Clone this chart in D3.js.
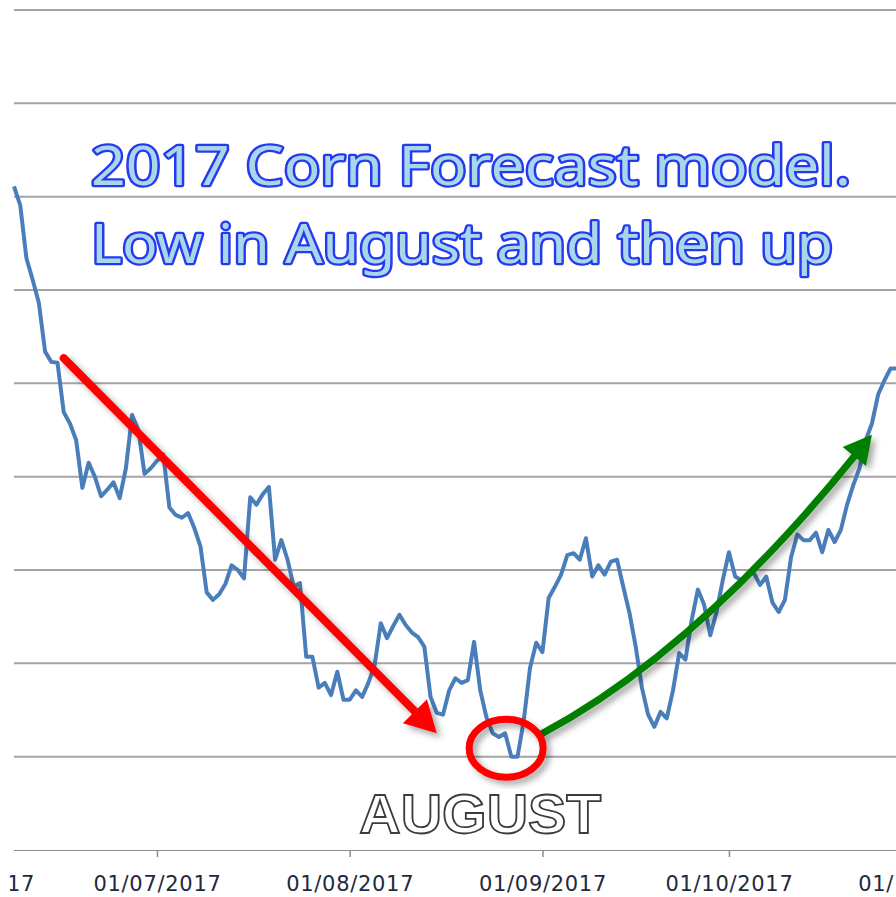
<!DOCTYPE html>
<html>
<head>
<meta charset="utf-8">
<script src="https://cdn.jsdelivr.net/npm/d3@7"></script>
<style>
  html, body { margin: 0; padding: 0; background: #fff; }
  svg { display: block; overflow: hidden; }
</style>
</head>
<body>
<div id="chart"></div>
<script>
// daily model values, one per calendar day starting at firstDay
const firstDay = "2017-06-08";
const lastDay = "2017-10-28";
const prices = [
  411.1, 409.1, 403.4, 401.1, 398.6, 393.4, 392.3, 392.2, 386.9, 385.7,
  383.9, 378.8, 381.5, 380.0, 377.9, 378.6, 379.4, 377.7, 380.9, 386.6,
  385.0, 380.3, 380.9, 381.7, 382.4, 376.7, 375.9, 375.6, 376.1, 374.5,
  372.5, 367.6, 366.8, 367.4, 368.5, 370.5, 370.0, 369.1, 377.8, 377.0,
  378.1, 378.9, 371.1, 373.2, 371.1, 368.2, 368.6, 360.7, 360.7, 357.4,
  357.9, 356.6, 359.1, 356.1, 356.1, 357.1, 356.4, 357.9, 359.8, 364.3,
  362.7, 364.0, 365.2, 364.1, 363.3, 362.8, 361.8, 356.4, 354.7, 354.5,
  357.1, 358.4, 357.9, 358.2, 362.3, 357.1, 354.2, 352.5, 352.1, 352.5,
  350.0, 350.0, 353.9, 359.5, 362.2, 361.2, 367.0, 368.2, 369.5, 371.6,
  371.8, 371.1, 373.4, 369.3, 370.5, 369.5, 370.9, 371.1, 368.2, 365.4,
  361.8, 357.4, 354.5, 353.2, 354.8, 354.1, 357.1, 361.1, 360.4, 364.6,
  367.9, 366.3, 363.0, 365.5, 368.9, 371.9, 369.3, 368.9, 369.4, 369.7,
  368.4, 369.3, 366.5, 365.5, 366.8, 371.4, 373.8, 373.2, 373.2, 374.0,
  371.9, 374.3, 373.0, 374.3, 377.0, 379.1, 380.9, 383.9, 385.7, 388.8,
  390.3, 391.6, 391.6
];

const monthTicks = ["2017-06-01", "2017-07-01", "2017-08-01", "2017-09-01", "2017-10-01", "2017-11-01"];
const gridValues = [350, 360, 370, 380, 390, 400, 410, 420, 430];

const titleLines = ["2017 Corn Forecast model.", "Low in August and then up"];
const lowLabel = "AUGUST";
const lowLabelDay = "2017-08-22";

// annotations, in data units
const downArrow = [["2017-06-16", 392.7], ["2017-08-15", 352.5]];
const upArrow = [["2017-09-01", 352.5], ["2017-09-26", 361.4], ["2017-10-24", 384.5]];
const lowCircle = ["2017-08-26", 350.9];

const W = 896, H = 897;
const parse = d3.timeParse("%Y-%m-%d");

const svg = d3.select("#chart").append("svg")
  .attr("width", W)
  .attr("height", H)
  .style("background", "#fff");

const defs = svg.append("defs");
const shadow = defs.append("filter").attr("id", "shadow")
  .attr("x", "-20%").attr("y", "-20%").attr("width", "140%").attr("height", "140%");
shadow.append("feDropShadow")
  .attr("dx", 4).attr("dy", 4).attr("stdDeviation", 3)
  .attr("flood-color", "#000").attr("flood-opacity", 0.35);
// the chart picture is cropped a little inside its own left edge
defs.append("clipPath").attr("id", "crop")
  .append("rect").attr("x", 10).attr("y", 0).attr("width", W).attr("height", H);

// Scales
const x = d3.scaleTime()
  .domain([parse(firstDay), parse(lastDay)])
  .range([14, 896.8]);
const y = d3.scaleLinear().domain([340, 430]).range([850, 10]);

// Grid
svg.append("g").selectAll("line")
  .data(gridValues)
  .join("line")
  .attr("x1", 14).attr("x2", W)
  .attr("y1", d => y(d)).attr("y2", d => y(d))
  .attr("stroke", "#a4a4a4")
  .attr("stroke-width", 2);

// X axis
const xAxis = svg.append("g")
  .attr("transform", `translate(0, ${y(340)})`)
  .attr("clip-path", "url(#crop)")
  .call(d3.axisBottom(x)
    .tickValues(monthTicks.map(parse))
    .tickFormat(d3.timeFormat("%d/%m/%Y"))
    .tickSize(7)
    .tickPadding(19));
xAxis.select(".domain")
  .attr("d", `M14,0H${W}`)
  .attr("stroke", "#8c8c8c")
  .attr("stroke-width", 2);
xAxis.selectAll(".tick line").attr("stroke", "#8c8c8c").attr("stroke-width", 1.5);
xAxis.selectAll(".tick text")
  .attr("fill", "#1f2a40")
  .style("font-family", "'DejaVu Sans', Verdana, sans-serif")
  .style("font-size", "21px")
  .style("letter-spacing", "0.7px");

// Series line
const series = prices.map((v, i) => ({ date: d3.timeDay.offset(parse(firstDay), i), value: v }));
svg.append("path")
  .datum(series)
  .attr("fill", "none")
  .attr("stroke", "#4a7ebb")
  .attr("stroke-width", 4)
  .attr("stroke-linejoin", "round")
  .attr("d", d3.line().x(d => x(d.date)).y(d => y(d.value)));

// helper for arrowheads
function arrowHead(tip, dir, len, half) {
  const bx = tip[0] - dir[0] * len, by = tip[1] - dir[1] * len;
  const nx = -dir[1], ny = dir[0];
  return [tip, [bx + nx * half, by + ny * half], [bx - nx * half, by - ny * half]];
}
const pt = d => [x(parse(d[0])), y(d[1])];

// Red arrow (down)
{
  const a = pt(downArrow[0]), b = pt(downArrow[1]);
  const L = Math.hypot(b[0] - a[0], b[1] - a[1]);
  const dir = [(b[0] - a[0]) / L, (b[1] - a[1]) / L];
  const g = svg.append("g").attr("filter", "url(#shadow)");
  g.append("line")
    .attr("x1", a[0]).attr("y1", a[1])
    .attr("x2", b[0] - dir[0] * 24).attr("y2", b[1] - dir[1] * 24)
    .attr("stroke", "#ff0000").attr("stroke-width", 8).attr("stroke-linecap", "round");
  g.append("polygon")
    .attr("points", arrowHead(b, dir, 31, 17).map(p => p.join(",")).join(" "))
    .attr("fill", "#ff0000");
}

// Green arrow (up, curved)
{
  const p0 = pt(upArrow[0]), c = pt(upArrow[1]), p2 = pt(upArrow[2]);
  const L = Math.hypot(p2[0] - c[0], p2[1] - c[1]);
  const dir = [(p2[0] - c[0]) / L, (p2[1] - c[1]) / L];
  const end = [p2[0] - dir[0] * 22, p2[1] - dir[1] * 22];
  const path = d3.path();
  path.moveTo(p0[0], p0[1]);
  path.quadraticCurveTo(c[0], c[1], end[0], end[1]);
  const g = svg.append("g").attr("filter", "url(#shadow)");
  g.append("path")
    .attr("d", path.toString())
    .attr("fill", "none")
    .attr("stroke", "#007f00").attr("stroke-width", 7).attr("stroke-linecap", "round");
  g.append("polygon")
    .attr("points", arrowHead(p2, dir, 28, 15).map(p => p.join(",")).join(" "))
    .attr("fill", "#007f00");
}

// Red circle round the low
const lc = pt(lowCircle);
svg.append("ellipse")
  .attr("cx", lc[0] + 1).attr("cy", lc[1])
  .attr("rx", 37).attr("ry", 29)
  .attr("fill", "none")
  .attr("stroke", "#ff0000").attr("stroke-width", 7)
  .attr("filter", "url(#shadow)");

// AUGUST label
svg.append("text")
  .attr("x", x(parse(lowLabelDay)))
  .attr("y", 833)
  .attr("text-anchor", "middle")
  .attr("textLength", 242)
  .attr("lengthAdjust", "spacingAndGlyphs")
  .style("font-family", "'Liberation Sans', Arial, sans-serif")
  .style("font-weight", "bold")
  .style("font-size", "56px")
  .attr("fill", "#fff")
  .attr("stroke", "#3c3c3c")
  .attr("stroke-width", 1.8)
  .text(lowLabel);

// Title lines
const titleY = [185, 263], titleW = [760, 742];
svg.append("g").selectAll("text")
  .data(titleLines)
  .join("text")
  .attr("x", 91)
  .attr("y", (d, i) => titleY[i])
  .attr("textLength", (d, i) => titleW[i])
  .attr("lengthAdjust", "spacingAndGlyphs")
  .style("font-family", "'Comic Sans MS', 'Noto Sans', sans-serif")
  .style("font-size", "54px")
  .style("paint-order", "stroke")
  .attr("fill", "#a8d6ea")
  .attr("stroke", "#2639f0")
  .attr("stroke-width", 4.5)
  .attr("stroke-linejoin", "round")
  .text(d => d);
</script>
</body>
</html>
